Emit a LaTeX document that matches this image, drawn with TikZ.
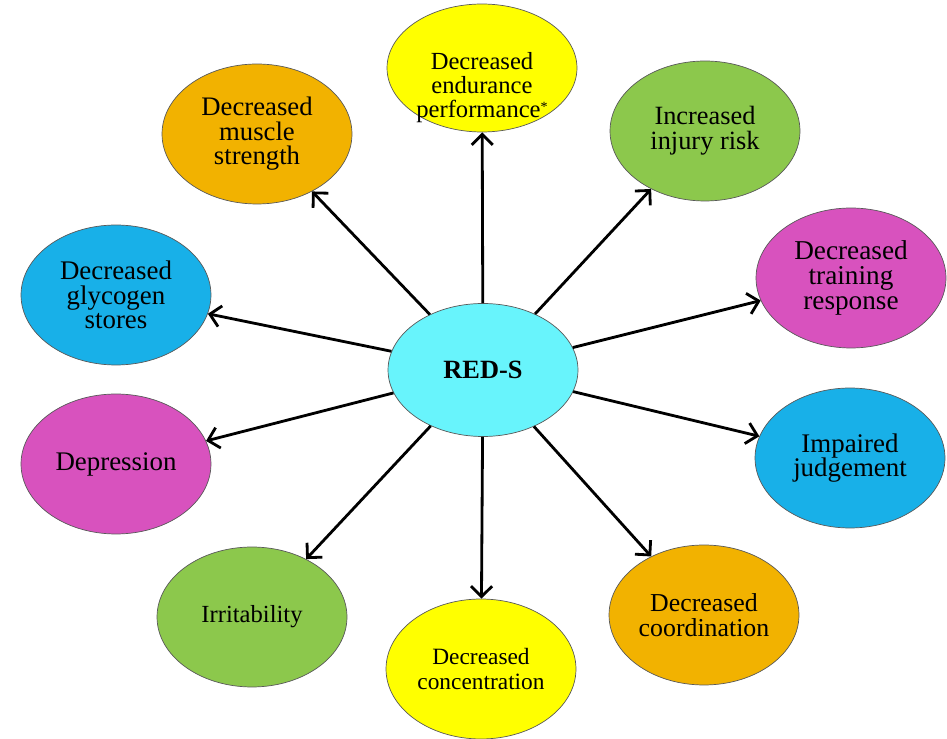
\documentclass[tikz,border=0pt]{standalone}
\usepackage{fontspec}
\setmainfont{Liberation Serif}
\usetikzlibrary{shapes.geometric,arrows.meta}
\definecolor{redscyan}{RGB}{104,244,252}
\definecolor{sunyellow}{RGB}{255,255,0}
\definecolor{amber}{RGB}{242,178,0}
\definecolor{leafgreen}{RGB}{140,200,76}
\definecolor{skyblue}{RGB}{24,176,232}
\definecolor{orchid}{RGB}{216,82,190}

\begin{document}
\begin{tikzpicture}[x=0.02cm,y=-0.02cm,
    bubble/.style={ellipse,draw=black!65,thin,inner sep=0pt,
        minimum width=3.8cm,minimum height=2.8cm,align=center},
    spoke/.style={->,line width=1.6pt},
    >={Straight Barb[length=6pt,width=12pt]}]
\useasboundingbox (0,0) rectangle (947,739);
% RED-S
\node[bubble,fill=redscyan,minimum height=2.66cm,
    font=\fontsize{15}{15}\selectfont\bfseries] (reds) at (483,370) {RED-S};
% top one, text sits low
\node[bubble,fill=sunyellow,minimum height=2.56cm,text height=56pt,text depth=0pt,
    inner ysep=-8pt,font=\fontsize{14}{13.5}\selectfont] (endur) at (482,68)
    {Decreased\\endurance\\performance\raisebox{3pt}{\fontsize{8}{8}\selectfont*}};
\draw[spoke] (reds) -- (endur);
% outer ring
\foreach \name/\x/\y/\col/\fs/\txt in {
    muscle/257/134/amber/15.2/{Decreased\\muscle\\strength},
    injury/705/131/leafgreen/15/{Increased\\injury risk},
    glyco/116/295/skyblue/15.3/{Decreased\\glycogen\\stores},
    train/851/278/orchid/15.5/{Decreased\\training\\response},
    depr/116/464/orchid/15.3/{Depression},
    judge/850/458/skyblue/15.3/{Impaired\\judgement},
    irrit/252/617/leafgreen/14/{Irritability},
    conc/481/669/sunyellow/13.3/{Decreased\\concentration},
    coord/704/615/amber/14.7/{Decreased\\coordination}} {
    \node[bubble,fill=\col,font=\fontsize{\fs}{14}\selectfont] (\name) at (\x,\y) {\txt};
    \draw[spoke] (reds) -- (\name);
}
\end{tikzpicture}
\end{document}
